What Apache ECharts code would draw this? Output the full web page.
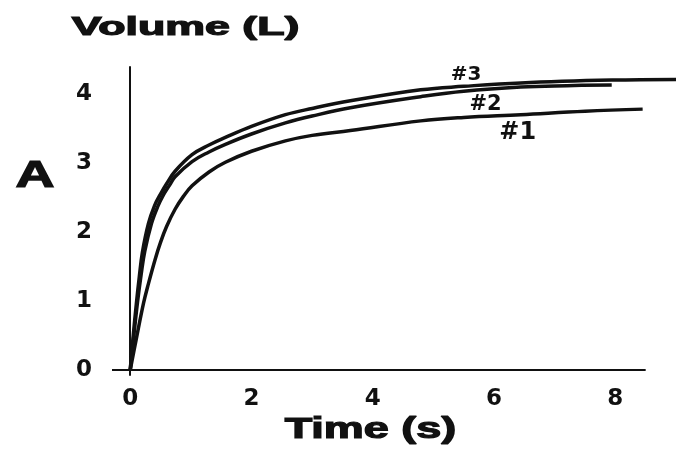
<!DOCTYPE html>
<html>
<head>
<meta charset="utf-8">
<script src="https://cdn.jsdelivr.net/npm/echarts@6/dist/echarts.min.js"></script>
<style>
html,body{margin:0;padding:0;background:#fff;}
#chart{width:676px;height:452px;}
</style>
</head>
<body>
<div id="chart"></div>
<script>
// Time (s) / Volume (L) for each trial
var trial1 = [[0,0],[0.1,0.45],[0.22,0.97],[0.3,1.25],[0.41,1.6],[0.5,1.85],[0.6,2.08],[0.74,2.33],[0.88,2.52],[1.02,2.67],[1.3,2.87],[1.57,3.01],[2.0,3.17],[2.56,3.32],[3.0,3.40],[3.63,3.47],[4.79,3.61],[5.5,3.66],[6.44,3.70],[7.5,3.75],[8.45,3.78]];
var trial2 = [[0,0],[0.06,0.5],[0.12,0.98],[0.18,1.38],[0.24,1.72],[0.35,2.12],[0.45,2.36],[0.55,2.54],[0.65,2.68],[0.74,2.80],[1.02,3.02],[1.3,3.16],[1.57,3.27],[2.0,3.42],[2.56,3.58],[3.0,3.68],[3.63,3.80],[4.79,3.96],[5.5,4.04],[6.44,4.10],[7.2,4.12],[7.94,4.13]];
var trial3 = [[0,0],[0.05,0.5],[0.1,0.95],[0.15,1.35],[0.2,1.70],[0.3,2.12],[0.4,2.38],[0.5,2.55],[0.6,2.70],[0.74,2.88],[1.02,3.12],[1.3,3.26],[1.57,3.37],[2.0,3.53],[2.56,3.70],[3.0,3.79],[3.63,3.90],[4.79,4.06],[5.5,4.11],[6.44,4.16],[7.94,4.20],[9.0,4.21]];
var seriesNames = ['#1', '#2', '#3'];
var xTicks = [0, 2, 4, 6, 8];
var yTicks = [0, 1, 2, 3, 4];
var titleText = 'Volume (L)';
var xName = 'Time (s)';
var panelLetter = 'A';

var chart = echarts.init(document.getElementById('chart'));
var lineColor = '#111';
function mk(name, data, withAxis) {
  var s = {
    name: name, type: 'line', data: data, smooth: 0.4,
    showSymbol: false, clip: false,
    lineStyle: { color: lineColor, width: 3.5 }
  };
  if (withAxis) {
    // drawn x-axis baseline, from -0.3 s to 8.5 s at volume 0
    s.markLine = {
      silent: true, symbol: 'none', label: { show: false },
      lineStyle: { type: 'solid', color: '#111', width: 2 },
      data: [[{ coord: [-0.3, 0] }, { coord: [8.5, 0] }]]
    };
  }
  return s;
}
chart.setOption({
  animation: false,
  backgroundColor: '#fff',
  grid: { left: 112, right: 0, top: 67, bottom: 77 },
  xAxis: {
    type: 'value', min: -0.3, max: 9.0,
    axisLine: { show: false },
    axisTick: { show: false },
    splitLine: { show: false },
    axisLabel: { customValues: xTicks, margin: 13, color: '#111', fontFamily: 'DejaVu Sans', fontWeight: 'bold', fontSize: 23 }
  },
  yAxis: {
    type: 'value', min: -0.07, max: 4.39,
    axisLine: { show: true, onZero: true, lineStyle: { color: '#111', width: 2 } },
    axisTick: { show: false },
    splitLine: { show: false },
    axisLabel: { customValues: yTicks, margin: 20, color: '#111', fontFamily: 'DejaVu Sans', fontWeight: 'bold', fontSize: 23 }
  },
  series: [mk(seriesNames[0], trial1, true), mk(seriesNames[1], trial2), mk(seriesNames[2], trial3)]
});

// annotation anchors in data space (time, volume)
var anchors = [[6.39, 3.44, 24], [5.86, 3.85, 21], [5.54, 4.28, 20]];
var g = [];
seriesNames.forEach(function (n, i) {
  var p = chart.convertToPixel({ gridIndex: 0 }, [anchors[i][0], anchors[i][1]]);
  g.push({ type: 'text', x: p[0], y: p[1], style: { text: n, font: 'bold ' + anchors[i][2] + 'px "DejaVu Sans"', fill: '#111', textAlign: 'center', textVerticalAlign: 'middle' } });
});
g.push({ type: 'text', x: 185.5, y: 28, scaleX: 1.72, style: { text: titleText, font: 'bold 26px "Liberation Sans"', fill: '#111', stroke: '#111', lineWidth: 1.2, textAlign: 'center', textVerticalAlign: 'middle' } });
g.push({ type: 'text', x: 370.5, y: 430, scaleX: 1.5, style: { text: xName, font: 'bold 30px "Liberation Sans"', fill: '#111', stroke: '#111', lineWidth: 1.2, textAlign: 'center', textVerticalAlign: 'middle' } });
g.push({ type: 'text', x: 35, y: 177, scaleX: 1.5, style: { text: panelLetter, font: 'bold 36px "Liberation Sans"', fill: '#111', stroke: '#111', lineWidth: 1.2, textAlign: 'center', textVerticalAlign: 'middle' } });
chart.setOption({ graphic: g });
</script>
</body>
</html>
